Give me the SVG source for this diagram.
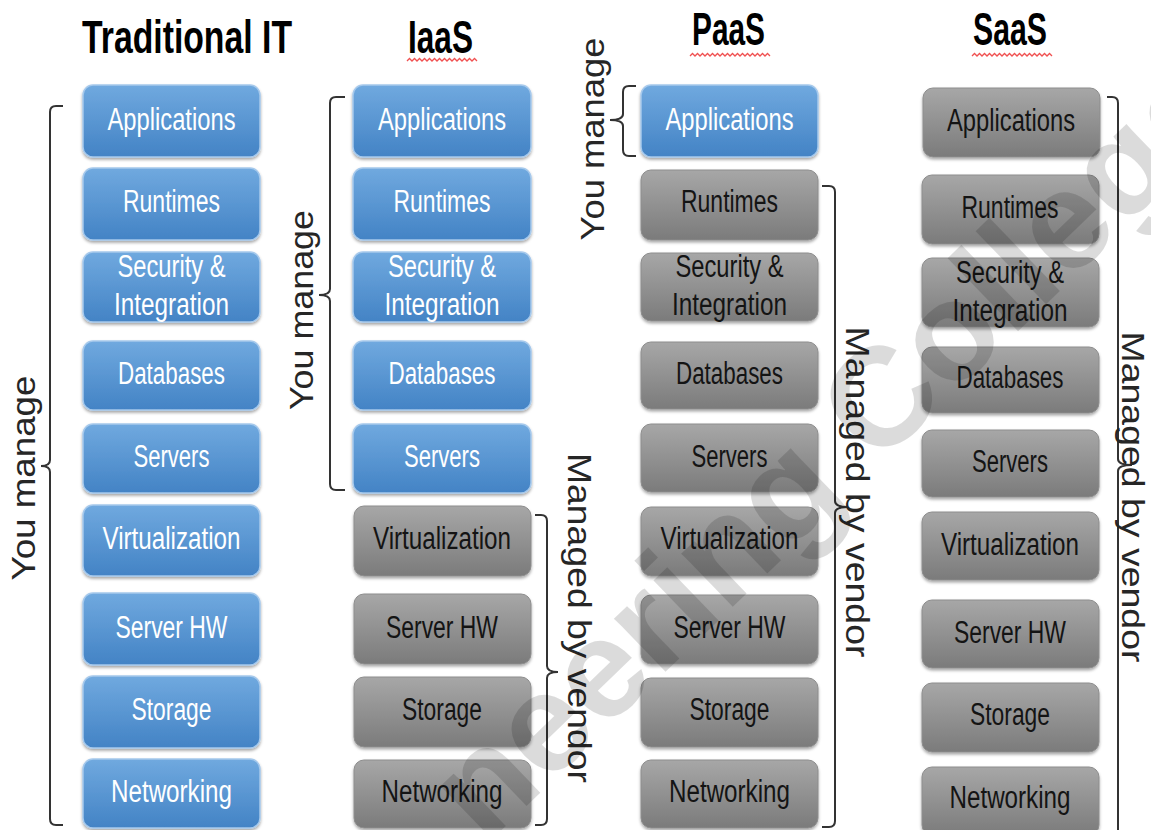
<svg xmlns="http://www.w3.org/2000/svg" width="1151" height="830" viewBox="0 0 1151 830">
<defs>
<linearGradient id="gBlue" x1="0" y1="0" x2="0" y2="1">
<stop offset="0" stop-color="#70a9df"/>
<stop offset="1" stop-color="#4383c5"/>
</linearGradient>
<linearGradient id="gGray" x1="0" y1="0" x2="0" y2="1">
<stop offset="0" stop-color="#a7a7a7"/>
<stop offset="1" stop-color="#7b7b7b"/>
</linearGradient>
<filter id="sh" x="-10%" y="-10%" width="120%" height="130%">
<feDropShadow dx="0" dy="2" stdDeviation="1.6" flood-color="#000" flood-opacity="0.35"/>
</filter>
<style>
.b{fill:url(#gBlue);stroke:#a6c9ec;stroke-width:1.5;filter:url(#sh)}
.g{fill:url(#gGray);stroke:#8d8d8d;stroke-width:1;filter:url(#sh)}
.t{font-family:"Liberation Sans",Arial,sans-serif;font-size:31px;text-anchor:middle}
.tw{fill:#ffffff}
.tk{fill:#141414}
.h{font-family:"Liberation Sans",Arial,sans-serif;font-weight:bold;font-size:47px;fill:#000;text-anchor:start}
.br{fill:none;stroke:#333;stroke-width:2}
.lb{font-family:"Liberation Sans",Arial,sans-serif;font-size:33px;fill:#262626;text-anchor:middle}
.sq{fill:none;stroke:#f05050;stroke-width:1.3}
.wm{font-family:"Liberation Sans",Arial,sans-serif;font-weight:bold;font-size:140px;fill:#000;fill-opacity:0.14}
</style>
</defs>
<rect width="1151" height="830" fill="#ffffff"/>

<g id="titles">
<text class="h" x="82" y="53" textLength="210" lengthAdjust="spacingAndGlyphs">Traditional IT</text>
<text class="h" x="408" y="53" textLength="65" lengthAdjust="spacingAndGlyphs">IaaS</text>
<text class="h" x="692" y="45" textLength="73" lengthAdjust="spacingAndGlyphs">PaaS</text>
<text class="h" x="973" y="45" textLength="74" lengthAdjust="spacingAndGlyphs">SaaS</text>
<path class="sq" d="M407,61 l2.5,-2.5 l2.5,2.5 l2.5,-2.5 l2.5,2.5 l2.5,-2.5 l2.5,2.5 l2.5,-2.5 l2.5,2.5 l2.5,-2.5 l2.5,2.5 l2.5,-2.5 l2.5,2.5 l2.5,-2.5 l2.5,2.5 l2.5,-2.5 l2.5,2.5 l2.5,-2.5 l2.5,2.5 l2.5,-2.5 l2.5,2.5 l2.5,-2.5 l2.5,2.5 l2.5,-2.5 l2.5,2.5 l2.5,-2.5 l2.5,2.5 l2.5,-2.5 l2.5,2.5"/>
<path class="sq" d="M690,56 l2.5,-2.5 l2.5,2.5 l2.5,-2.5 l2.5,2.5 l2.5,-2.5 l2.5,2.5 l2.5,-2.5 l2.5,2.5 l2.5,-2.5 l2.5,2.5 l2.5,-2.5 l2.5,2.5 l2.5,-2.5 l2.5,2.5 l2.5,-2.5 l2.5,2.5 l2.5,-2.5 l2.5,2.5 l2.5,-2.5 l2.5,2.5 l2.5,-2.5 l2.5,2.5 l2.5,-2.5 l2.5,2.5 l2.5,-2.5 l2.5,2.5 l2.5,-2.5 l2.5,2.5 l2.5,-2.5 l2.5,2.5 l2.5,-2.5 l2.5,2.5"/>
<path class="sq" d="M972,56 l2.5,-2.5 l2.5,2.5 l2.5,-2.5 l2.5,2.5 l2.5,-2.5 l2.5,2.5 l2.5,-2.5 l2.5,2.5 l2.5,-2.5 l2.5,2.5 l2.5,-2.5 l2.5,2.5 l2.5,-2.5 l2.5,2.5 l2.5,-2.5 l2.5,2.5 l2.5,-2.5 l2.5,2.5 l2.5,-2.5 l2.5,2.5 l2.5,-2.5 l2.5,2.5 l2.5,-2.5 l2.5,2.5 l2.5,-2.5 l2.5,2.5 l2.5,-2.5 l2.5,2.5 l2.5,-2.5 l2.5,2.5 l2.5,-2.5 l2.5,2.5"/>
</g>

<!-- Traditional IT column -->
<g id="trad-applications"><rect class="b" x="83" y="85" width="177" height="72" rx="10"/><text class="t tw" x="171.5" y="130" textLength="128" lengthAdjust="spacingAndGlyphs">Applications</text></g>
<g id="trad-runtimes"><rect class="b" x="83" y="168" width="177" height="72" rx="10"/><text class="t tw" x="171.5" y="212" textLength="97" lengthAdjust="spacingAndGlyphs">Runtimes</text></g>
<g id="trad-security"><rect class="b" x="83" y="252" width="177" height="70" rx="10"/><text class="t tw" x="171.5" y="277" textLength="108" lengthAdjust="spacingAndGlyphs">Security &amp;</text><text class="t tw" x="171.5" y="315" textLength="115" lengthAdjust="spacingAndGlyphs">Integration</text></g>
<g id="trad-databases"><rect class="b" x="83" y="341" width="177" height="69" rx="10"/><text class="t tw" x="171.5" y="384" textLength="107" lengthAdjust="spacingAndGlyphs">Databases</text></g>
<g id="trad-servers"><rect class="b" x="83" y="424" width="177" height="69" rx="10"/><text class="t tw" x="171.5" y="467" textLength="76" lengthAdjust="spacingAndGlyphs">Servers</text></g>
<g id="trad-virtualization"><rect class="b" x="83" y="505" width="177" height="71" rx="10"/><text class="t tw" x="171.5" y="549" textLength="138" lengthAdjust="spacingAndGlyphs">Virtualization</text></g>
<g id="trad-serverhw"><rect class="b" x="83" y="593" width="177" height="72" rx="10"/><text class="t tw" x="171.5" y="638" textLength="112" lengthAdjust="spacingAndGlyphs">Server HW</text></g>
<g id="trad-storage"><rect class="b" x="83" y="676" width="177" height="72" rx="10"/><text class="t tw" x="171.5" y="720" textLength="80" lengthAdjust="spacingAndGlyphs">Storage</text></g>
<g id="trad-networking"><rect class="b" x="83" y="759" width="177" height="69" rx="10"/><text class="t tw" x="171.5" y="802" textLength="121" lengthAdjust="spacingAndGlyphs">Networking</text></g>

<!-- IaaS column -->
<g id="iaas-applications"><rect class="b" x="353" y="85" width="178" height="72" rx="10"/><text class="t tw" x="442" y="130" textLength="128" lengthAdjust="spacingAndGlyphs">Applications</text></g>
<g id="iaas-runtimes"><rect class="b" x="353" y="168" width="178" height="72" rx="10"/><text class="t tw" x="442" y="212" textLength="97" lengthAdjust="spacingAndGlyphs">Runtimes</text></g>
<g id="iaas-security"><rect class="b" x="353" y="252" width="178" height="70" rx="10"/><text class="t tw" x="442" y="277" textLength="108" lengthAdjust="spacingAndGlyphs">Security &amp;</text><text class="t tw" x="442" y="315" textLength="115" lengthAdjust="spacingAndGlyphs">Integration</text></g>
<g id="iaas-databases"><rect class="b" x="353" y="341" width="178" height="69" rx="10"/><text class="t tw" x="442" y="384" textLength="107" lengthAdjust="spacingAndGlyphs">Databases</text></g>
<g id="iaas-servers"><rect class="b" x="353" y="424" width="178" height="69" rx="10"/><text class="t tw" x="442" y="467" textLength="76" lengthAdjust="spacingAndGlyphs">Servers</text></g>
<g id="iaas-virtualization"><rect class="g" x="354" y="506" width="177" height="70" rx="10"/><text class="t tk" x="442" y="549" textLength="138" lengthAdjust="spacingAndGlyphs">Virtualization</text></g>
<g id="iaas-serverhw"><rect class="g" x="354" y="594" width="177" height="70" rx="10"/><text class="t tk" x="442" y="638" textLength="112" lengthAdjust="spacingAndGlyphs">Server HW</text></g>
<g id="iaas-storage"><rect class="g" x="354" y="677" width="177" height="70" rx="10"/><text class="t tk" x="442" y="720" textLength="80" lengthAdjust="spacingAndGlyphs">Storage</text></g>
<g id="iaas-networking"><rect class="g" x="354" y="760" width="177" height="68" rx="10"/><text class="t tk" x="442" y="802" textLength="121" lengthAdjust="spacingAndGlyphs">Networking</text></g>

<!-- PaaS column -->
<g id="paas-applications"><rect class="b" x="641" y="85" width="177" height="72" rx="10"/><text class="t tw" x="729.5" y="130" textLength="128" lengthAdjust="spacingAndGlyphs">Applications</text></g>
<g id="paas-runtimes"><rect class="g" x="641" y="170" width="177" height="70" rx="10"/><text class="t tk" x="729.5" y="212" textLength="97" lengthAdjust="spacingAndGlyphs">Runtimes</text></g>
<g id="paas-security"><rect class="g" x="641" y="253" width="177" height="68" rx="10"/><text class="t tk" x="729.5" y="277" textLength="108" lengthAdjust="spacingAndGlyphs">Security &amp;</text><text class="t tk" x="729.5" y="315" textLength="115" lengthAdjust="spacingAndGlyphs">Integration</text></g>
<g id="paas-databases"><rect class="g" x="641" y="342" width="177" height="67" rx="10"/><text class="t tk" x="729.5" y="384" textLength="107" lengthAdjust="spacingAndGlyphs">Databases</text></g>
<g id="paas-servers"><rect class="g" x="641" y="424" width="177" height="68" rx="10"/><text class="t tk" x="729.5" y="467" textLength="76" lengthAdjust="spacingAndGlyphs">Servers</text></g>
<g id="paas-virtualization"><rect class="g" x="641" y="507" width="177" height="69" rx="10"/><text class="t tk" x="729.5" y="549" textLength="138" lengthAdjust="spacingAndGlyphs">Virtualization</text></g>
<g id="paas-serverhw"><rect class="g" x="641" y="595" width="177" height="69" rx="10"/><text class="t tk" x="729.5" y="638" textLength="112" lengthAdjust="spacingAndGlyphs">Server HW</text></g>
<g id="paas-storage"><rect class="g" x="641" y="678" width="177" height="69" rx="10"/><text class="t tk" x="729.5" y="720" textLength="80" lengthAdjust="spacingAndGlyphs">Storage</text></g>
<g id="paas-networking"><rect class="g" x="641" y="760" width="177" height="68" rx="10"/><text class="t tk" x="729.5" y="802" textLength="121" lengthAdjust="spacingAndGlyphs">Networking</text></g>

<!-- SaaS column -->
<g id="saas-applications"><rect class="g" x="923" y="88" width="177" height="69" rx="10"/><text class="t tk" x="1011" y="131" textLength="128" lengthAdjust="spacingAndGlyphs">Applications</text></g>
<g id="saas-runtimes"><rect class="g" x="922" y="175" width="177" height="69" rx="10"/><text class="t tk" x="1010" y="218" textLength="97" lengthAdjust="spacingAndGlyphs">Runtimes</text></g>
<g id="saas-security"><rect class="g" x="922" y="258" width="177" height="69" rx="10"/><text class="t tk" x="1010" y="283" textLength="108" lengthAdjust="spacingAndGlyphs">Security &amp;</text><text class="t tk" x="1010" y="321" textLength="115" lengthAdjust="spacingAndGlyphs">Integration</text></g>
<g id="saas-databases"><rect class="g" x="922" y="347" width="177" height="66" rx="10"/><text class="t tk" x="1010" y="388" textLength="107" lengthAdjust="spacingAndGlyphs">Databases</text></g>
<g id="saas-servers"><rect class="g" x="922" y="430" width="177" height="67" rx="10"/><text class="t tk" x="1010" y="472" textLength="76" lengthAdjust="spacingAndGlyphs">Servers</text></g>
<g id="saas-virtualization"><rect class="g" x="922" y="512" width="177" height="68" rx="10"/><text class="t tk" x="1010" y="555" textLength="138" lengthAdjust="spacingAndGlyphs">Virtualization</text></g>
<g id="saas-serverhw"><rect class="g" x="922" y="600" width="177" height="68" rx="10"/><text class="t tk" x="1010" y="643" textLength="112" lengthAdjust="spacingAndGlyphs">Server HW</text></g>
<g id="saas-storage"><rect class="g" x="922" y="683" width="177" height="69" rx="10"/><text class="t tk" x="1010" y="725" textLength="80" lengthAdjust="spacingAndGlyphs">Storage</text></g>
<g id="saas-networking"><rect class="g" x="922" y="767" width="177" height="68" rx="10"/><text class="t tk" x="1010" y="808" textLength="121" lengthAdjust="spacingAndGlyphs">Networking</text></g>

<!-- Braces (connectors) and their labels -->
<g id="connectors">
<g id="brace-trad-you">
<path class="br" d="M63,106 H56 Q50,106 50,112 V460 Q50,466 41,466 Q50,466 50,472 V819 Q50,825 56,825 H63"/>
<text class="lb" transform="translate(35,478) rotate(-90)" textLength="205" lengthAdjust="spacingAndGlyphs">You manage</text>
</g>
<g id="brace-iaas-you">
<path class="br" d="M345,97 H336 Q330,97 330,103 V289 Q330,295 319,295 Q330,295 330,301 V484 Q330,490 336,490 H345"/>
<text class="lb" transform="translate(313,310) rotate(-90)" textLength="200" lengthAdjust="spacingAndGlyphs">You manage</text>
</g>
<g id="brace-iaas-vendor">
<path class="br" d="M535,515 H541 Q547,515 547,521 V666 Q547,672 558,672 Q547,672 547,678 V819 Q547,825 541,825 H535"/>
<text class="lb" transform="translate(568,618) rotate(90)" textLength="330" lengthAdjust="spacingAndGlyphs">Managed by vendor</text>
</g>
<g id="brace-paas-you">
<path class="br" d="M636,86 H629 Q623,86 623,92 V114 Q623,120 610,120 Q623,120 623,126 V150 Q623,156 629,156 H636"/>
<text class="lb" transform="translate(604,139) rotate(-90)" textLength="203" lengthAdjust="spacingAndGlyphs">You manage</text>
</g>
<g id="brace-paas-vendor">
<path class="br" d="M822,186 H829 Q835,186 835,192 V501 Q835,507 848,507 Q835,507 835,513 V821 Q835,827 829,827 H822"/>
<text class="lb" transform="translate(846,492) rotate(90)" textLength="331" lengthAdjust="spacingAndGlyphs">Managed by vendor</text>
</g>
<g id="brace-saas-vendor">
<path class="br" d="M1107,97 H1112 Q1118,97 1118,103 V459 Q1118,465 1132,465 Q1118,465 1118,471 V832 Q1118,838 1112,838 H1107"/>
<text class="lb" style="font-size:31px" transform="translate(1122,497) rotate(90)" textLength="331" lengthAdjust="spacingAndGlyphs">Managed by vendor</text>
</g>
</g>

<g id="watermark">
<text class="wm" transform="translate(485,846) rotate(-44)">neering College</text>
</g>
</svg>
